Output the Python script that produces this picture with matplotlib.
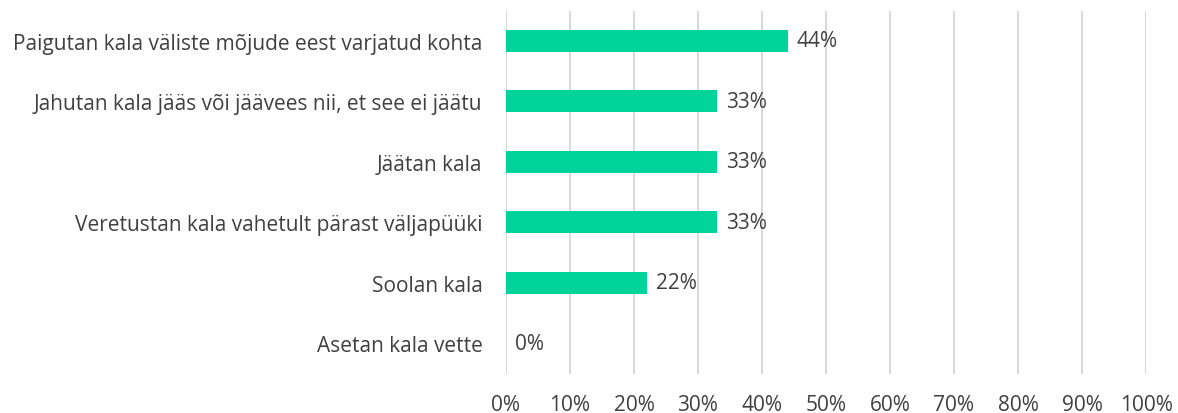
import matplotlib
matplotlib.use("Agg")
import matplotlib.pyplot as plt
from matplotlib.ticker import FuncFormatter, MultipleLocator
from matplotlib.transforms import offset_copy

categories = [
    "Paigutan kala väliste mõjude eest varjatud kohta",
    "Jahutan kala jääs või jäävees nii, et see ei jäätu",
    "Jäätan kala",
    "Veretustan kala vahetult pärast väljapüüki",
    "Soolan kala",
    "Asetan kala vette",
]
values = [44, 33, 33, 33, 22, 0]

plt.rcParams['font.family'] = ['Open Sans', 'DejaVu Sans']
text_color = "#404040"
bar_color = "#00D49A"

fig = plt.figure(figsize=(11.78, 4.14), dpi=100)
ax = fig.add_axes([506/1178, 1-374.5/414, 640/1178, 363/414])

n = len(categories)
ypos = list(range(n))[::-1]
ax.barh(ypos, values, height=0.37, color=bar_color, zorder=3)
ax.set_ylim(-0.5, n - 0.5)
ax.set_xlim(0, 100)
ax.xaxis.set_major_locator(MultipleLocator(10))
ax.xaxis.set_major_formatter(FuncFormatter(lambda v, p: f"{int(round(v))}%"))
ax.grid(axis='x', color="#D9D9D9", linewidth=1.5, zorder=0)
ax.set_yticks(ypos)
ax.set_yticklabels(categories)
for s in ax.spines.values():
    s.set_visible(False)
ax.tick_params(axis='both', length=0, labelsize=15, colors=text_color)
ax.tick_params(axis='x', pad=15)
ax.tick_params(axis='y', pad=17)

trans = offset_copy(ax.transData, fig=fig, x=9, y=0, units='dots')
for y, v in zip(ypos, values):
    ax.text(v, y, f"{v}%", transform=trans, va='center', ha='left',
            fontsize=15, color=text_color)

fig.savefig("out.png", dpi=100)
